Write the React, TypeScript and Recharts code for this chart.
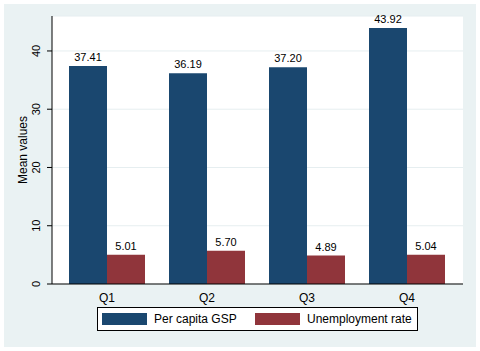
import { BarChart, Bar, XAxis, YAxis, CartesianGrid, LabelList, Label } from "recharts";

const quarters = ["Q1", "Q2", "Q3", "Q4"];
const gspValues = [37.41, 36.19, 37.2, 43.92];
const unemploymentValues = [5.01, 5.7, 4.89, 5.04];
const yTicks = [0, 10, 20, 30, 40];

const series = [
  { key: "gsp", name: "Per capita GSP", color: "#1a476f" },
  { key: "unemp", name: "Unemployment rate", color: "#90353b" },
];

const data = quarters.map((q, i) => ({
  quarter: q,
  gsp: gspValues[i],
  unemp: unemploymentValues[i],
}));

const font = "'Liberation Sans', Arial, sans-serif";

function YTick(props: any) {
  const { y, payload } = props;
  return (
    <text
      x={36}
      y={y}
      transform={`rotate(-90 36 ${y})`}
      textAnchor="middle"
      dominantBaseline="central"
      fontSize={11}
      fill="#000"
      fontFamily={font}
    >
      {payload.value}
    </text>
  );
}

export default function App() {
  return (
    <div
      style={{
        position: "absolute",
        left: 0,
        top: 0,
        width: 480,
        height: 351,
        background: "#fff",
        fontFamily: font,
      }}
    >
      <div
        style={{
          position: "absolute",
          left: 4,
          top: 4,
          width: 472,
          height: 343,
          background: "#eaf2f3",
        }}
      />
      <div style={{ position: "absolute", left: 0, top: 0 }}>
        <BarChart
          width={480}
          height={351}
          data={data}
          margin={{ top: 16, right: 17, left: 0, bottom: 37 }}
          barCategoryGap="12%"
          barGap={0}
        >
          <CartesianGrid vertical={false} stroke="#e6eef0" fill="#ffffff" />
          <XAxis
            dataKey="quarter"
            height={30}
            padding={{ left: 5, right: 6 }}
            tickLine={false}
            tickSize={6}
            tickMargin={3}
            axisLine={{ stroke: "#000" }}
            tick={{ fill: "#000", fontSize: 12, fontFamily: font }}
          />
          <YAxis
            width={52}
            domain={[0, 46]}
            ticks={yTicks}
            tickSize={5}
            tickLine={{ stroke: "#000" }}
            axisLine={{ stroke: "#000" }}
            tick={<YTick />}
          >
            <Label
              content={(p: any) => {
                const vb = p.viewBox;
                const cy = vb.y + vb.height / 2;
                return (
                  <text
                    x={23}
                    y={cy}
                    transform={`rotate(-90 23 ${cy})`}
                    textAnchor="middle"
                    dominantBaseline="central"
                    fontSize={12}
                    fill="#000"
                    fontFamily={font}
                  >
                    Mean values
                  </text>
                );
              }}
            />
          </YAxis>
          {series.map((s) => (
            <Bar key={s.key} dataKey={s.key} name={s.name} fill={s.color} isAnimationActive={false}>
              <LabelList
                dataKey={s.key}
                position="top"
                offset={5}
                formatter={(v: any) => Number(v).toFixed(2)}
                style={{ fill: "#000", fontSize: 11, fontFamily: font }}
              />
            </Bar>
          ))}
        </BarChart>
      </div>
      <div
        style={{
          position: "absolute",
          left: 97,
          top: 307,
          width: 321,
          height: 24,
          boxSizing: "border-box",
          border: "1px solid #000",
          background: "#fff",
          fontSize: 12,
          whiteSpace: "nowrap",
        }}
      >
        {series.map((s, i) => (
          <div
            key={s.key}
            style={{
              position: "absolute",
              left: i === 0 ? 4 : 157,
              top: 5,
              height: 12,
              display: "flex",
              alignItems: "center",
            }}
          >
            <div style={{ width: 45, height: 12, background: s.color, marginRight: 7, flexShrink: 0 }} />
            <span style={{ lineHeight: "12px" }}>{s.name}</span>
          </div>
        ))}
      </div>
    </div>
  );
}
